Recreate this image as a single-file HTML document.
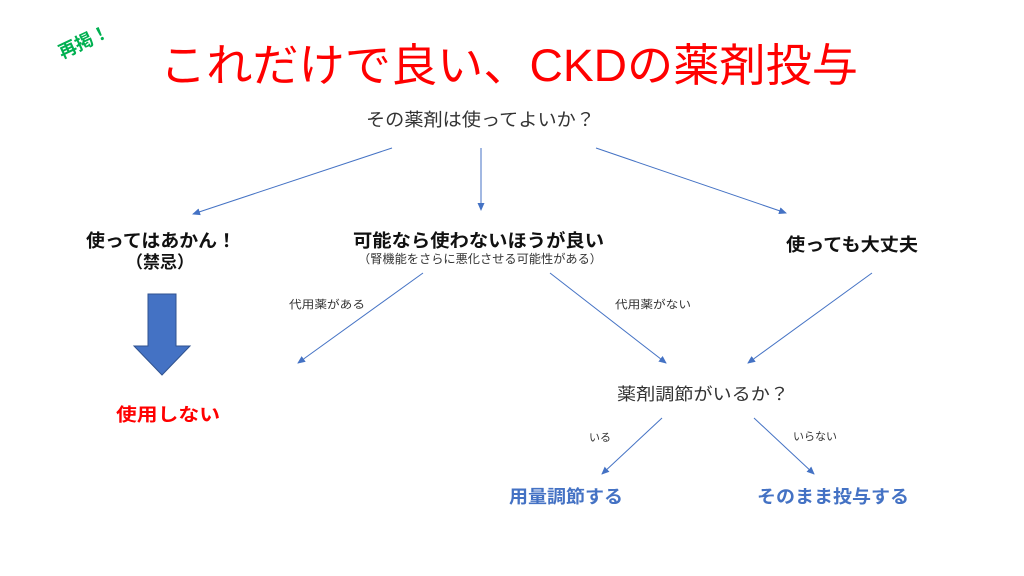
<!DOCTYPE html>
<html><head><meta charset="utf-8"><style>
body{margin:0;background:#fff}
svg{display:block}
text{font-family:"Liberation Sans","Noto Sans CJK JP",sans-serif}
</style></head><body>
<svg width="1024" height="576" viewBox="0 0 1024 576" xmlns="http://www.w3.org/2000/svg">
<defs><marker id="a" markerWidth="8" markerHeight="8" refX="7" refY="4" orient="auto" markerUnits="userSpaceOnUse"><path d="M0,0.5 L8,4 L0,7.5 z" fill="#4472C4"/></marker></defs>
<text x="84" y="48" font-size="18" font-weight="bold" fill="#00B050" text-anchor="middle" transform="rotate(-25 84 42)">再掲！</text>
<text x="160" y="81" font-size="45" fill="#FF0000" textLength="698" lengthAdjust="spacingAndGlyphs">これだけで良い、CKDの薬剤投与</text>
<text x="366" y="126" font-size="18" fill="#333" textLength="229" lengthAdjust="spacingAndGlyphs">その薬剤は使ってよいか？</text>
<g stroke="#4472C4" stroke-width="1" marker-end="url(#a)">
<line x1="392" y1="148" x2="193" y2="214"/>
<line x1="481" y1="148" x2="481" y2="210"/>
<line x1="596" y1="148" x2="786" y2="213"/>
<line x1="423" y1="273" x2="298" y2="363"/>
<line x1="550" y1="273" x2="666" y2="363"/>
<line x1="872" y1="273" x2="748" y2="363"/>
<line x1="662" y1="418" x2="602" y2="474"/>
<line x1="754" y1="418" x2="814" y2="474"/>
</g>
<text x="86" y="247" font-size="18" font-weight="bold" fill="#111" textLength="150" lengthAdjust="spacingAndGlyphs">使ってはあかん！</text>
<text x="160" y="268" font-size="17" font-weight="bold" fill="#111" text-anchor="middle">（禁忌）</text>
<text x="353" y="247" font-size="18" font-weight="bold" fill="#111" textLength="251" lengthAdjust="spacingAndGlyphs">可能なら使わないほうが良い</text>
<text x="358" y="263" font-size="12" fill="#333" textLength="244" lengthAdjust="spacingAndGlyphs">（腎機能をさらに悪化させる可能性がある）</text>
<text x="786" y="251" font-size="18" font-weight="bold" fill="#111" textLength="132" lengthAdjust="spacingAndGlyphs">使っても大丈夫</text>
<path d="M148,294 H176 V346 H190 L162,375 L134,346 H148 Z" fill="#4472C4" stroke="#2F528F" stroke-width="1"/>
<text x="289" y="308" font-size="11" fill="#333" textLength="76" lengthAdjust="spacingAndGlyphs">代用薬がある</text>
<text x="615" y="308" font-size="11" fill="#333" textLength="76" lengthAdjust="spacingAndGlyphs">代用薬がない</text>
<text x="116" y="421" font-size="18" font-weight="bold" fill="#FF0000" textLength="104" lengthAdjust="spacingAndGlyphs">使用しない</text>
<text x="617" y="400" font-size="17" fill="#333" textLength="172" lengthAdjust="spacingAndGlyphs">薬剤調節がいるか？</text>
<text x="600" y="441" font-size="11" fill="#333" text-anchor="middle">いる</text>
<text x="815" y="440" font-size="11" fill="#333" text-anchor="middle">いらない</text>
<text x="509" y="503" font-size="18" font-weight="bold" fill="#4472C4" textLength="114" lengthAdjust="spacingAndGlyphs">用量調節する</text>
<text x="757" y="503" font-size="18" font-weight="bold" fill="#4472C4" textLength="152" lengthAdjust="spacingAndGlyphs">そのまま投与する</text>
</svg>
</body></html>
